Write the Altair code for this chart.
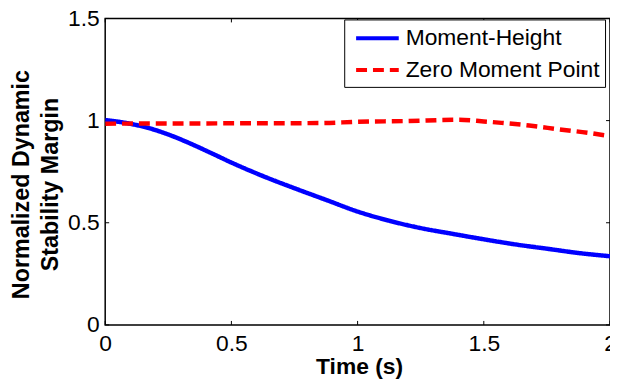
import altair as alt
import pandas as pd

# Moment-Height series (time in s, normalized margin)
mh_time = [0.0, 0.084, 0.168, 0.25, 0.335, 0.42, 0.503, 0.626, 0.752, 0.877, 1.0,
           1.125, 1.25, 1.375, 1.5, 1.625, 1.75, 1.875, 2.0]
mh_value = [1.003, 0.988, 0.965, 0.932, 0.889, 0.841, 0.793, 0.728, 0.668, 0.611, 0.555,
            0.510, 0.474, 0.446, 0.419, 0.394, 0.373, 0.352, 0.336]

# Zero Moment Point series
zmp_time = [0.0, 0.3, 0.6, 0.85, 1.0, 1.2, 1.4, 1.5, 1.57, 1.68, 1.8, 1.92, 2.0]
zmp_value = [0.985, 0.986, 0.987, 0.988, 0.994, 0.998, 1.004, 0.996, 0.989, 0.976, 0.957, 0.939, 0.924]

series_names = ["Moment-Height", "Zero Moment Point"]
x_ticks = [0, 0.5, 1, 1.5, 2]
y_ticks = [0, 0.5, 1, 1.5]

W, H = 509, 309
FONT = "Liberation Sans"

df = pd.concat([
    pd.DataFrame({"t": mh_time, "v": mh_value, "s": series_names[0], "o": range(len(mh_time))}),
    pd.DataFrame({"t": zmp_time, "v": zmp_value, "s": series_names[1], "o": range(len(zmp_time))}),
])

xs = alt.Scale(domain=[0, 2], nice=False, zero=False)
ys = alt.Scale(domain=[0, 1.5], nice=False, zero=False)

lines = alt.Chart(df).mark_line(strokeWidth=4.5, clip=True, interpolate="monotone").encode(
    x=alt.X("t:Q", scale=xs,
            axis=alt.Axis(values=x_ticks, format="~g", title="Time (s)", ticks=False, domain=False, grid=False,
                          labelFontSize=23, labelFont=FONT, labelColor="black", labelPadding=8,
                          labelFlush=False, labelOverlap=False,
                          titleFontSize=23, titleFont=FONT, titleFontWeight="bold", titleColor="black",
                          titleBaseline="alphabetic", titleY=49, titleX=256)),
    y=alt.Y("v:Q", scale=ys,
            axis=alt.Axis(values=y_ticks, format="~g", title=["Normalized Dynamic", "Stability Margin"],
                          ticks=False, domain=False, grid=False,
                          labelFontSize=23, labelFont=FONT, labelColor="black", labelPadding=6,
                          labelFlush=False, labelOverlap=False,
                          titleFontSize=23.5, titleFont=FONT, titleFontWeight="bold", titleColor="black",
                          titleAngle=-90, titleBaseline="middle", titleAlign="center",
                          titleLineHeight=29, titleX=-84, titleY=167)),
    color=alt.Color("s:N", scale=alt.Scale(domain=series_names, range=["#0000FF", "#FF0000"]),
                    legend=alt.Legend(title=None, orient="none", legendX=241, legendY=1,
                                      symbolType="M-0.583,0H3", symbolSize=576, symbolStrokeWidth=4,
                                      labelFontSize=23, labelFont=FONT, labelColor="black",
                                      labelLimit=0, labelOffset=29, rowPadding=6, padding=5,
                                      strokeColor="black", fillColor="white")),
    strokeDash=alt.StrokeDash("s:N", scale=alt.Scale(domain=series_names, range=[[1, 0], [11, 6]]),
                              legend=None),
    order="o:Q",
)

xt = pd.DataFrame({"t": x_ticks})
yt = pd.DataFrame({"v": y_ticks})

tb = alt.Chart(xt).mark_rule(color="black", strokeWidth=1).encode(
    x=alt.X("t:Q", scale=xs), y=alt.value(H), y2=alt.value(H - 4))
tt = alt.Chart(xt).mark_rule(color="black", strokeWidth=1).encode(
    x=alt.X("t:Q", scale=xs), y=alt.value(0), y2=alt.value(4))
tl = alt.Chart(yt).mark_rule(color="black", strokeWidth=1).encode(
    y=alt.Y("v:Q", scale=ys), x=alt.value(0), x2=alt.value(4))
tr = alt.Chart(yt).mark_rule(color="black", strokeWidth=1).encode(
    y=alt.Y("v:Q", scale=ys), x=alt.value(W - 4), x2=alt.value(W))

chart = alt.layer(tb, tt, tl, tr, lines).properties(
    width=W, height=H,
    autosize=alt.AutoSizeParams(type="none"),
    padding={"left": 98, "top": 9, "right": 0, "bottom": 53},
).configure_view(stroke="black", strokeWidth=1.5)

chart.save("out.html", embed_options={"renderer": "svg", "actions": False})
